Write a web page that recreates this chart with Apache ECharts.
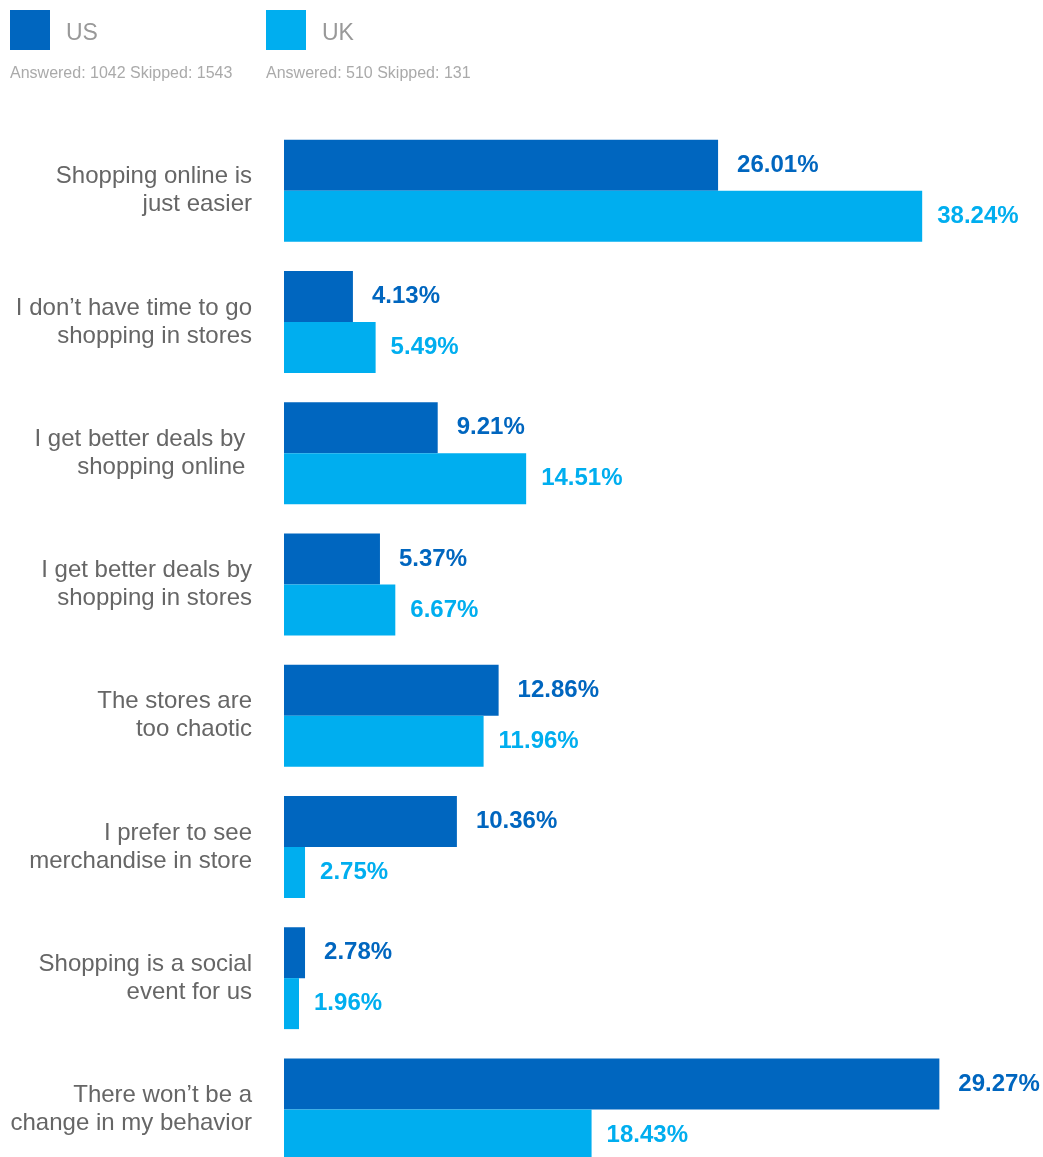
<!DOCTYPE html>
<html>
<head>
<meta charset="utf-8">
<script src="https://cdn.jsdelivr.net/npm/echarts@6/dist/echarts.min.js"></script>
<style>
html,body{margin:0;padding:0;background:#fff;}
#chart{width:1043px;height:1157px;}
</style>
</head>
<body>
<div id="chart"></div>
<script>
const categories = [
  'Shopping online is\njust easier',
  'I don\u2019t have time to go\nshopping in stores',
  'I get better deals by \nshopping online ',
  'I get better deals by\nshopping in stores',
  'The stores are\ntoo chaotic',
  'I prefer to see\nmerchandise in store',
  'Shopping is a social\nevent for us',
  'There won\u2019t be a\nchange in my behavior'
];
// bar lengths as drawn in the picture (percent)
const usValues = [26.01, 4.13, 9.21, 5.75, 12.86, 10.36, 1.26, 39.27];
const ukValues = [38.24, 5.49, 14.51, 6.67, 11.96, 1.26, 0.90, 18.43];
// value labels as printed in the picture
const usLabels = ['26.01%', '4.13%', '9.21%', '5.37%', '12.86%', '10.36%', '2.78%', '29.27%'];
const ukLabels = ['38.24%', '5.49%', '14.51%', '6.67%', '11.96%', '2.75%', '1.96%', '18.43%'];
const seriesNames = ['US', 'UK'];
const seriesNotes = ['Answered: 1042 Skipped: 1543', 'Answered: 510 Skipped: 131'];

const US_COLOR = '#0066BF';
const UK_COLOR = '#00AEEF';
const FONT = '"Liberation Sans", Arial, Helvetica, sans-serif';

const chart = echarts.init(document.getElementById('chart'), null, {renderer: 'canvas'});

const legendBase = {
  top: 10,
  padding: 0,
  orient: 'horizontal',
  icon: 'rect',
  itemWidth: 40,
  itemHeight: 40,
  selectedMode: false,
  formatter: '{a|{name}}',
  textStyle: {
    fontSize: 23, color: '#999', fontFamily: FONT,
    rich: {a: {fontSize: 23, color: '#999', fontFamily: FONT, padding: [8, 0, 0, 11]}}
  }
};

chart.setOption({
  animation: false,
  backgroundColor: '#fff',
  legend: [
    Object.assign({}, legendBase, {left: 10, data: [seriesNames[0]]}),
    Object.assign({}, legendBase, {left: 266, data: [seriesNames[1]]})
  ],
  graphic: [
    {type: 'text', left: 10, top: 66, style: {text: seriesNotes[0], fill: '#aaa', font: '16px ' + FONT}},
    {type: 'text', left: 266, top: 66, style: {text: seriesNotes[1], fill: '#aaa', font: '16px ' + FONT}}
  ],
  grid: {left: 284, right: 8, top: 125, height: 1050, containLabel: false, outerBoundsMode: 'none'},
  xAxis: {
    type: 'value', min: 0, max: 45,
    show: false
  },
  yAxis: {
    type: 'category',
    data: categories,
    inverse: true,
    axisLine: {show: false},
    axisTick: {show: false},
    splitLine: {show: false},
    axisLabel: {fontSize: 24, lineHeight: 28, color: '#666', margin: 32, fontFamily: FONT, align: 'right'}
  },
  series: [
    {
      name: seriesNames[0], type: 'bar', data: usValues,
      barWidth: 51, barGap: '0%',
      itemStyle: {color: US_COLOR},
      label: {show: true, position: 'right', distance: 19,
        formatter: p => usLabels[p.dataIndex],
        color: US_COLOR, fontWeight: 'bold', fontSize: 24, fontFamily: FONT}
    },
    {
      name: seriesNames[1], type: 'bar', data: ukValues,
      barWidth: 51, barGap: '0%',
      itemStyle: {color: UK_COLOR},
      label: {show: true, position: 'right', distance: 15,
        formatter: p => ukLabels[p.dataIndex],
        color: UK_COLOR, fontWeight: 'bold', fontSize: 24, fontFamily: FONT}
    }
  ]
});
</script>
</body>
</html>
